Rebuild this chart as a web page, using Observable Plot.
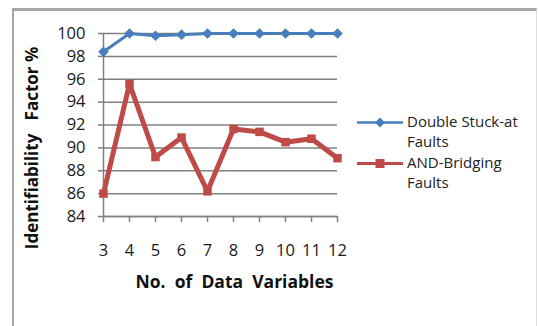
<!DOCTYPE html>
<html>
<head>
<meta charset="utf-8">
<script src="https://cdn.jsdelivr.net/npm/d3@7"></script>
<script src="https://cdn.jsdelivr.net/npm/@observablehq/plot@0.6"></script>
<style>
  html, body { margin: 0; padding: 0; background: #fff; }
  #wrap { position: relative; width: 538px; height: 326px; overflow: hidden; font-family: "Open Sans", sans-serif; }
  #border { position: absolute; left: 12px; top: 8px; width: 522px; height: 340px; border-top: 3px solid #a8a8a8; border-left: 2px solid #a8a8a8; border-right: 1px solid #e0e0e0; }
  #chart { position: absolute; left: 0; top: 0; }
  #legend { position: absolute; left: 357px; top: 111px; font-size: 15px; color: #222; line-height: 20px; }
  .item { display: flex; align-items: flex-start; margin-bottom: 1px; }
  .item svg { flex: none; margin-top: 1px; }
  .item span { margin-left: 4px; }
</style>
</head>
<body>
<div id="wrap">
  <div id="border"></div>
  <div id="chart"></div>
  <div id="legend"></div>
</div>
<script>
const variables = [3, 4, 5, 6, 7, 8, 9, 10, 11, 12];
const doubleStuckAt = [98.4, 100, 99.8, 99.9, 100, 100, 100, 100, 100, 100];
const andBridging = [86.0, 95.6, 89.2, 90.9, 86.2, 91.65, 91.4, 90.5, 90.8, 89.1];
const seriesNames = ["Double Stuck-at Faults", "AND-Bridging Faults"];
const seriesColors = ["#4a7ebb", "#be4b48"];
const yTicks = [84, 86, 88, 90, 92, 94, 96, 98, 100];

const rows = [];
variables.forEach((v, i) => {
  rows.push({x: v, y: doubleStuckAt[i], s: seriesNames[0]});
  rows.push({x: v, y: andBridging[i], s: seriesNames[1]});
});
const blue = rows.filter(d => d.s === seriesNames[0]);
const red = rows.filter(d => d.s === seriesNames[1]);

const plot = Plot.plot({
  width: 538,
  height: 326,
  marginLeft: 103,
  marginRight: 201,
  marginTop: 33,
  marginBottom: 110,
  style: {fontFamily: "Open Sans, sans-serif", fontSize: "16px", color: "#1a1a1a", background: "transparent"},
  x: {domain: [3, 12], ticks: variables, tickFormat: d => String(d)},
  y: {domain: [84, 100], ticks: yTicks},
  marks: [
    Plot.gridY(yTicks, {stroke: "#808080", strokeOpacity: 1, strokeWidth: 1.5}),
    Plot.axisY(yTicks, {tickSize: 5, tickPadding: 13, stroke: "#808080", strokeWidth: 1.5, label: null, fontSize: 16.5}),
    Plot.axisX(variables, {tickSize: 6, tickPadding: 22, stroke: "#808080", strokeWidth: 1.5, label: null, fontSize: 16.5, tickFormat: d => String(d)}),
    Plot.ruleX([3], {stroke: "#808080", strokeWidth: 1.5}),
    Plot.ruleY([84], {stroke: "#808080", strokeWidth: 1.5}),
    Plot.line(red, {x: "x", y: "y", stroke: seriesColors[1], strokeWidth: 5, strokeLinejoin: "miter"}),
    Plot.dot(red, {x: "x", y: "y", symbol: "square", r: 4.8, fill: seriesColors[1], stroke: "none"}),
    Plot.line(blue, {x: "x", y: "y", stroke: seriesColors[0], strokeWidth: 3, strokeLinejoin: "round"}),
    Plot.dot(blue, {x: "x", y: "y", symbol: "diamond2", r: 4.8, fill: seriesColors[0], stroke: "none"}),
    Plot.text(["No.\u00a0 of\u00a0 Data\u00a0 Variables"], {frameAnchor: "bottom", textAnchor: "middle", dx: 14, dy: 71, fontWeight: "bold", fontSize: 17.5, fill: "#111"}),
    Plot.text(["Identifiability\u00a0\u00a0 Factor %"], {frameAnchor: "left", textAnchor: "middle", dx: -71, dy: 23, rotate: -90, fontWeight: "bold", fontSize: 17, fill: "#111"})
  ]
});
document.getElementById("chart").appendChild(plot);

const legend = document.getElementById("legend");
const legendLabels = [["Double Stuck-at", "Faults"], ["AND-Bridging", "Faults"]];
legendLabels.forEach((lines, i) => {
  const item = document.createElement("div");
  item.className = "item";
  const marker = i === 0
    ? `<path d="M23,5.5 L28,10.5 L23,15.5 L18,10.5 Z" fill="${seriesColors[i]}"/>`
    : `<rect x="18.5" y="6" width="9" height="9" fill="${seriesColors[i]}"/>`;
  item.innerHTML = `<svg width="46" height="20"><line x1="0" x2="46" y1="10.5" y2="10.5" stroke="${seriesColors[i]}" stroke-width="${i === 0 ? 2.5 : 3}"/>${marker}</svg><span>${lines.join("<br>")}</span>`;
  legend.appendChild(item);
});
</script>
</body>
</html>
